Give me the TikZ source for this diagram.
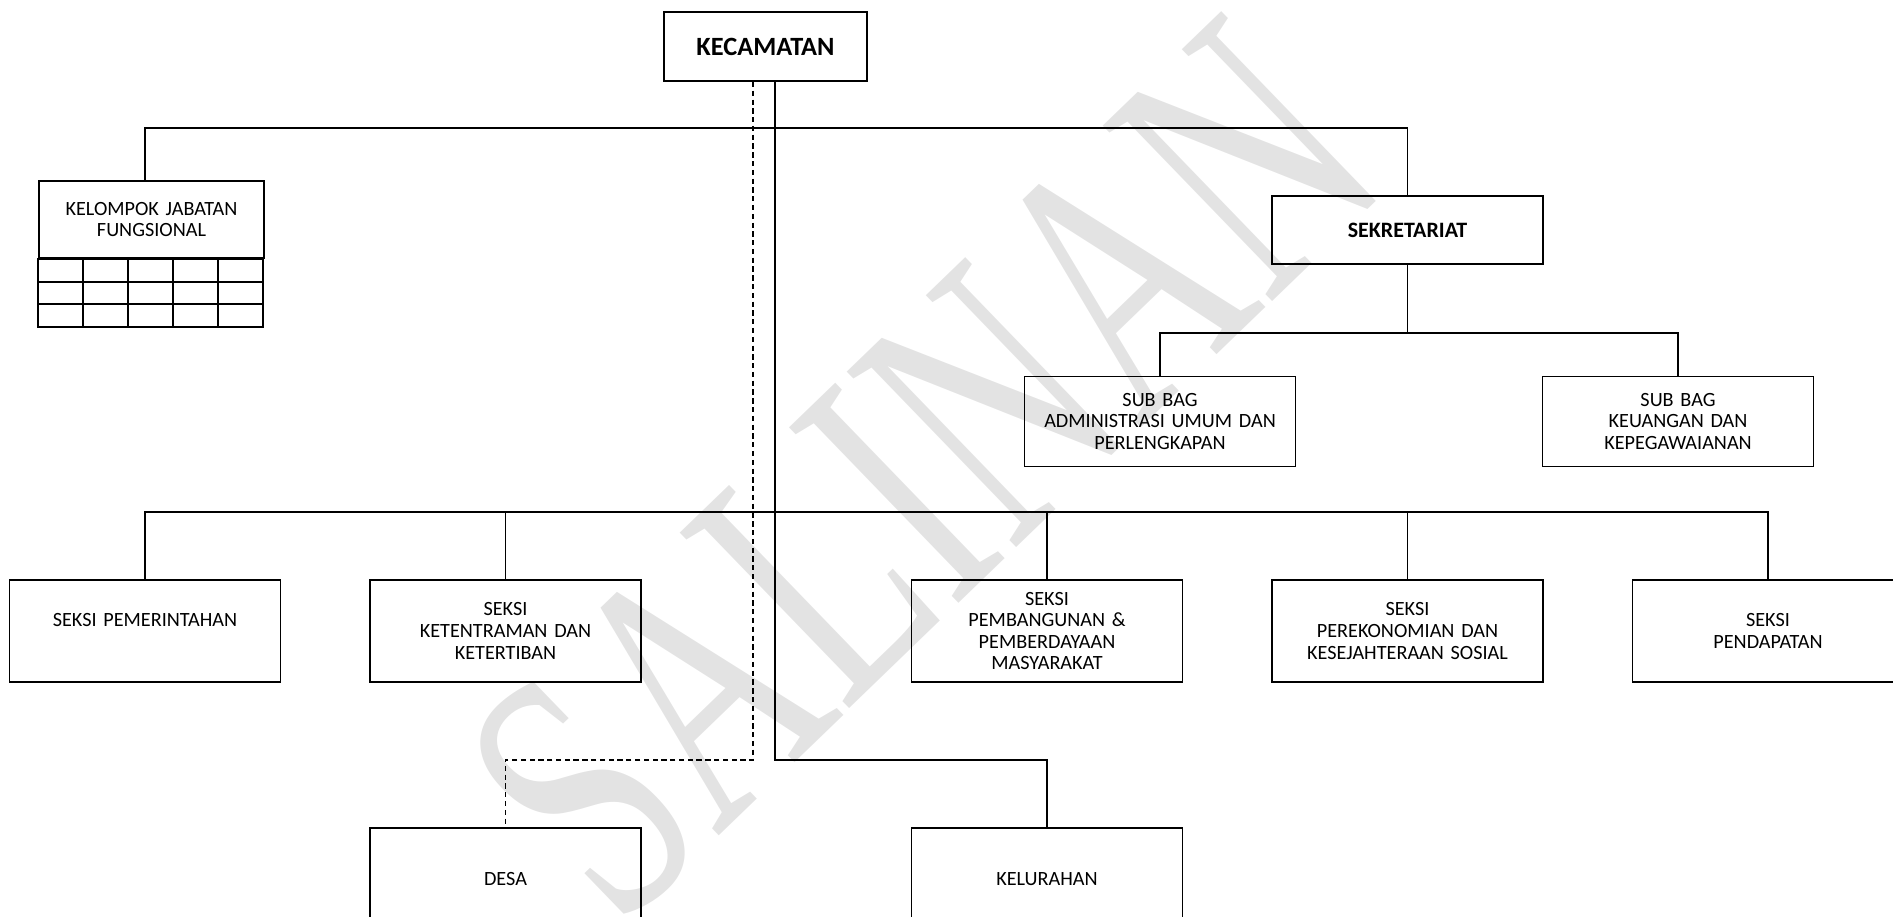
\documentclass[tikz,border=0pt]{standalone}
\usepackage{fontspec}
\setmainfont{Carlito}
\newfontfamily\wmfont{Liberation Serif}
\usetikzlibrary{positioning}

\begin{document}
\begin{tikzpicture}
  [
    node distance = 7.21cm,
    box/.style = {rectangle, draw, line width = 1.1pt, inner sep = 0pt,
                  minimum width = 5.42cm, text width = 5.1cm,
                  minimum height = 2.04cm, align = center,
                  font = \fontsize{11.5}{12.3}\selectfont},
    seksi/.style = {box},
    subbag/.style = {box, minimum height = 1.8cm},
    sekr/.style = {box, minimum height = 1.36cm,
                   font = \bfseries\fontsize{12.5}{14}\selectfont},
    head/.style = {box, minimum width = 4.06cm, text width = 3.8cm,
                   minimum height = 1.38cm,
                   font = \bfseries\fontsize{15}{18}\selectfont},
    fungs/.style = {box, minimum width = 4.5cm, text width = 4.3cm,
                    minimum height = 1.54cm},
    link/.style = {line width = 0.9pt},
    dlink/.style = {link, dash pattern = on 3pt off 2pt},
    wmark/.style = {text = black!11, inner sep = 0pt,
                    font = \wmfont\fontsize{212}{220}\selectfont},
  ]
  \useasboundingbox (0,0) rectangle (37.86,-18.34);

  % watermark
  \node[wmark, rotate = 44] (salinan) at (18.45,-9.4) {\scalebox{0.66}[1]{SALINAN}};

  \node[head] (kec) at (15.31,-0.93) {KECAMATAN};
  \node[seksi] (pem) at (2.9,-12.62) {SEKSI PEMERINTAHAN\\\mbox{}};
  \node[seksi] [right of = pem] (ket) {SEKSI\\KETENTRAMAN DAN\\KETERTIBAN};
  \node[seksi] [right of = ket, xshift = 3.62cm] (pmb) {SEKSI\\PEMBANGUNAN \&\\PEMBERDAYAAN\\MASYARAKAT};
  \node[seksi] [right of = pmb] (eko) {SEKSI\\PEREKONOMIAN DAN\\KESEJAHTERAAN SOSIAL};
  \node[seksi] [right of = eko] (pen) {SEKSI\\PENDAPATAN};
  \node[seksi] [below of = ket, yshift = 2.25cm] (desa) {DESA};
  \node[seksi] [below of = pmb, yshift = 2.25cm] (kel) {KELURAHAN};
  \node[sekr] [above of = eko, yshift = 0.81cm] (sek) {SEKRETARIAT};
  \node[subbag] [below of = sek, xshift = -4.95cm, yshift = 3.38cm] (sba) {SUB BAG\\ADMINISTRASI UMUM DAN\\PERLENGKAPAN};
  \node[subbag] [below of = sek, xshift = 5.41cm, yshift = 3.38cm] (sbk) {SUB BAG\\KEUANGAN DAN\\KEPEGAWAIANAN};
  \node[fungs] [above of = pem, xshift = 0.13cm, yshift = 1.02cm] (kjf) {KELOMPOK JABATAN\\FUNGSIONAL};

  % grid under kelompok jabatan fungsional
  \draw[line width = 1.1pt] (kjf.south west) rectangle ++(4.5,-1.36);
  \foreach \i in {1,...,4}
    \draw[link] (kjf.south west) ++(\i*0.9,0) -- ++(0,-1.36);
  \foreach \j in {1,2}
    \draw[line width = 1.1pt] (kjf.south west) ++(0,-\j*0.4533) -- ++(4.5,0);

  % connectors
  \coordinate (b1) at (2.9,-2.56);
  \coordinate (b3) at (15.5,-10.24);
  \coordinate (split) at (15.5,-15.2);
  \coordinate (dsplit) at (15.06,-15.2);
  \draw[link] ([xshift = 0.19cm]kec.south) -- (split) -| (kel.north);
  \draw[dlink] ([xshift = -0.25cm]kec.south) -- (dsplit) -| (desa.north);
  \draw[link] (kjf.north -| b1) -- (b1) -| (sek.north);
  \draw[link] (sek.south) -- ++(0,-1.36) coordinate (b2);
  \draw[link] (sba.north) |- (b2) -| (sbk.north);
  \draw[link] (pem.north) |- (b3) -| (pen.north);
  \foreach \n in {ket,pmb,eko}
    \draw[link] (\n.north) -- (\n.north |- b3);
\end{tikzpicture}
\end{document}
